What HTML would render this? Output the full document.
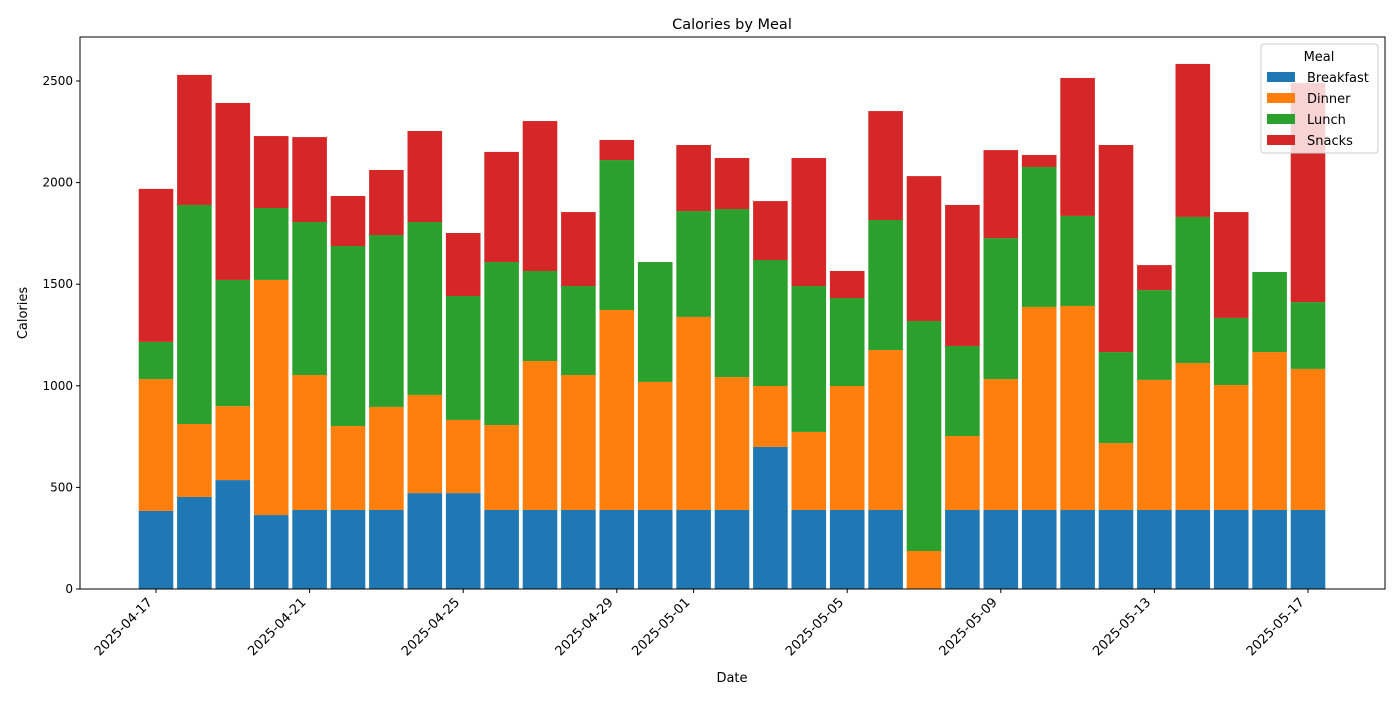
<!DOCTYPE html>
<html><head><meta charset="utf-8"><style>
body{margin:0;background:#fff}
svg{font-family:"DejaVu Sans","Liberation Sans",sans-serif}
</style></head><body>
<svg id="chart" width="1400" height="700" xmlns="http://www.w3.org/2000/svg"></svg>
<script>
const dates=["2025-04-17","2025-04-18","2025-04-19","2025-04-20","2025-04-21","2025-04-22","2025-04-23","2025-04-24","2025-04-25","2025-04-26","2025-04-27","2025-04-28","2025-04-29","2025-04-30","2025-05-01","2025-05-02","2025-05-03","2025-05-04","2025-05-05","2025-05-06","2025-05-07","2025-05-08","2025-05-09","2025-05-10","2025-05-11","2025-05-12","2025-05-13","2025-05-14","2025-05-15","2025-05-16","2025-05-17"];
const breakfast=[384,453,536,364,389,389,389,472,472,389,389,389,389,389,389,389,699,389,389,389,0,389,389,389,389,389,389,389,389,389,389];
const dinner=[649,359,364,1157,664,413,507,483,360,418,733,664,984,630,950,654,300,384,610,787,187,364,644,999,1004,329,640,723,615,777,694];
const lunch=[183,1078,621,354,753,886,846,851,610,802,443,438,738,590,521,827,620,718,433,640,1132,443,694,689,443,448,442,719,330,394,329];
const snacks=[753,640,871,354,418,246,320,448,310,542,738,364,99,0,325,251,290,630,133,536,713,694,433,59,679,1019,123,753,521,0,1078];
const yTicks=[0,500,1000,1500,2000,2500];
const xTickLabels=["2025-04-17","2025-04-21","2025-04-25","2025-04-29","2025-05-01","2025-05-05","2025-05-09","2025-05-13","2025-05-17"];

const NS="http://www.w3.org/2000/svg";
const svg=document.getElementById('chart');
const L=80,R=1385,T=37,B=589;
const y=v=>B-v*0.2032;
const x=i=>156+i*38.4;
const bw=34.6;
function mk(tag,attrs,parent){const e=document.createElementNS(NS,tag);for(const k in attrs)e.setAttribute(k,attrs[k]);(parent||svg).appendChild(e);return e;}

const series=[["breakfast",breakfast,"#1f77b4","Breakfast"],["dinner",dinner,"#ff7f0e","Dinner"],["lunch",lunch,"#2ca02c","Lunch"],["snacks",snacks,"#d62728","Snacks"]];
const base=dates.map(()=>0);
series.forEach(([key,vals,col])=>{
  vals.forEach((v,i)=>{
    const r=mk('rect',{x:x(i)-bw/2,y:y(base[i]+v),width:bw,height:v*0.2032,fill:col});
    
    
    base[i]+=v;
  });
});

const frame=mk('rect',{x:L,y:T,width:R-L,height:B-T,fill:'none',stroke:'#000','stroke-width':1});



yTicks.forEach(t=>{
  mk('line',{x1:L-4,x2:L,y1:y(t),y2:y(t),stroke:'#000'});
  const tx=mk('text',{x:L-7,y:y(t)+4,'text-anchor':'end','font-size':12});
  tx.textContent=t;
  
  
});
xTickLabels.forEach(d=>{
  const i=dates.indexOf(d);const px=x(i);
  mk('line',{x1:px,x2:px,y1:B,y2:B+4,stroke:'#000'});
  const ax=px-3,ay=B+14;
  const tx=mk('text',{x:ax,y:ay,'text-anchor':'end','font-size':13,transform:`rotate(-45 ${ax} ${ay})`});
  tx.textContent=d;
  
  
});

let t=mk('text',{x:732,y:29,'text-anchor':'middle','font-size':14.5});t.textContent='Calories by Meal';

t=mk('text',{x:732,y:682,'text-anchor':'middle','font-size':13});t.textContent='Date';

t=mk('text',{x:27,y:313,'text-anchor':'middle','font-size':13,transform:'rotate(-90 27 313)'});t.textContent='Calories';


const lg=mk('g',{});

mk('rect',{x:1261,y:44,width:117,height:109,rx:3,fill:'#fff','fill-opacity':0.8,stroke:'#ccc'},lg);
t=mk('text',{x:1319,y:61,'text-anchor':'middle','font-size':13},lg);t.textContent='Meal';
series.forEach(([key,,col,label],k)=>{
  const yy=72+k*21;
  const g=mk('g',{},lg);
  
  
  mk('rect',{x:1267,y:yy,width:28,height:10,fill:col},g);
  const tx=mk('text',{x:1307,y:yy+10,'font-size':13},g);tx.textContent=label;
});
</script>
</body></html>
